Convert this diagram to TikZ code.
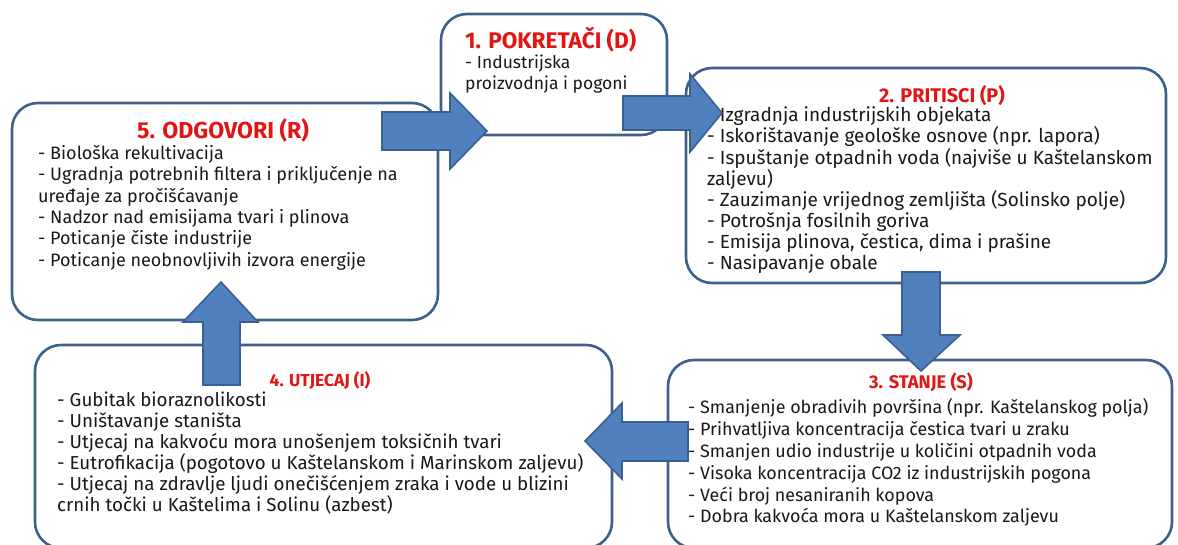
\documentclass[tikz,border=0pt]{standalone}
\usepackage{fontspec}
\setmainfont{Fira Sans}
\begin{document}
\begin{tikzpicture}[x=1pt,y=-1pt,
  box/.style={draw=boxblue,line width=2.6pt,fill=white,rounded corners=26pt,rectangle,inner sep=0pt},
  ttl/.style={text=titlered,font=\bfseries,inner sep=0pt,anchor=base},
  body/.style={text=txt,align=left,inner sep=0pt,anchor=north west},
  blk/.style={fill=arrfill,draw=arrline,line width=1.6pt,line join=miter}]
\definecolor{boxblue}{RGB}{62,96,140}
\definecolor{titlered}{RGB}{226,20,20}
\definecolor{txt}{RGB}{25,25,25}
\definecolor{arrfill}{RGB}{80,128,190}
\definecolor{arrline}{RGB}{58,96,145}
\useasboundingbox (0,0) rectangle (1178,544);
% boxes
\path (441,14) coordinate (b1a) (667,135) coordinate (b1b);
\draw[box] (b1a) rectangle (b1b);
\path (686,68) coordinate (b2a) (1166,283) coordinate (b2b);
\draw[box] (b2a) rectangle (b2b);
\path (668,360) coordinate (b3a) (1172,548) coordinate (b3b);
\draw[box] (b3a) rectangle (b3b);
\path (35,345) coordinate (b4a) (612,548) coordinate (b4b);
\draw[box] (b4a) rectangle (b4b);
\path (12,103) coordinate (b5a) (438,320) coordinate (b5b);
\draw[box] (b5a) rectangle (b5b);
% texts
\node[ttl,anchor=base west,font=\fontsize{22.6}{26}\selectfont\bfseries] (t1) at (465,48) {1. POKRETAČI (D)};
\node[body,font=\fontsize{17.5}{21}\selectfont] (x1) at (465,54.4) {- Industrijska\\proizvodnja i pogoni};
\node[ttl,font=\fontsize{19.8}{23}\selectfont\bfseries] (t2) at (942,102) {2. PRITISCI (P)};
\node[body,font=\fontsize{19}{21.1}\selectfont] (x2) at (707,106.8) {- Izgradnja industrijskih objekata\\- Iskorištavanje geološke osnove (npr. lapora)\\- Ispuštanje otpadnih voda (najviše u Kaštelanskom\\zaljevu)\\- Zauzimanje vrijednog zemljišta (Solinsko polje)\\- Potrošnja fosilnih goriva\\- Emisija plinova, čestica, dima i prašine\\- Nasipavanje obale};
\node[ttl,font=\fontsize{18.3}{22}\selectfont\bfseries] (t3) at (921,388) {3. STANJE (S)};
\node[body,font=\fontsize{17.9}{21.8}\selectfont] (x3) at (688,398.5) {- Smanjenje obradivih površina (npr. Kaštelanskog polja)\\- Prihvatljiva koncentracija čestica tvari u zraku\\- Smanjen udio industrije u količini otpadnih voda\\- Visoka koncentracija CO2 iz industrijskih pogona\\- Veći broj nesaniranih kopova\\- Dobra kakvoća mora u Kaštelanskom zaljevu};
\node[ttl,font=\fontsize{17.4}{21}\selectfont\bfseries] (t4) at (320,386) {4. UTJECAJ (I)};
\node[body,font=\fontsize{18.75}{21}\selectfont] (x4) at (57,391.5) {- Gubitak bioraznolikosti\\- Uništavanje staništa\\- Utjecaj na kakvoću mora unošenjem toksičnih tvari\\- Eutrofikacija (pogotovo u Kaštelanskom i Marinskom zaljevu)\\- Utjecaj na zdravlje ljudi onečišćenjem zraka i vode u blizini\\crnih točki u Kaštelima i Solinu (azbest)};
\node[ttl,font=\fontsize{23.1}{27}\selectfont\bfseries] (t5) at (223,138) {5. ODGOVORI (R)};
\node[body,font=\fontsize{18}{21.4}\selectfont] (x5) at (38,145) {- Biološka rekultivacija\\- Ugradnja potrebnih filtera i priključenje na\\uređaje za pročišćavanje\\- Nadzor nad emisijama tvari i plinova\\- Poticanje čiste industrije\\- Poticanje neobnovljivih izvora energije};
% block arrows
\draw[blk] (382,112) -- (450,112) -- (450,93) -- (487,131) -- (450,169) -- (450,150) -- (382,150) -- cycle;
\draw[blk] (623,96) -- (690,96) -- (690,74) -- (722,113) -- (690,152) -- (690,130) -- (623,130) -- cycle;
\draw[blk] (902,272) -- (902,335) -- (883,335) -- (921,371) -- (960,335) -- (940,335) -- (940,272) -- cycle;
\draw[blk] (688,422) -- (622,422) -- (622,403) -- (585,441) -- (622,479) -- (622,461) -- (688,461) -- cycle;
\draw[blk] (203,385) -- (203,322) -- (183,322) -- (221,282) -- (258,322) -- (240,322) -- (240,385) -- cycle;
\end{tikzpicture}
\end{document}
